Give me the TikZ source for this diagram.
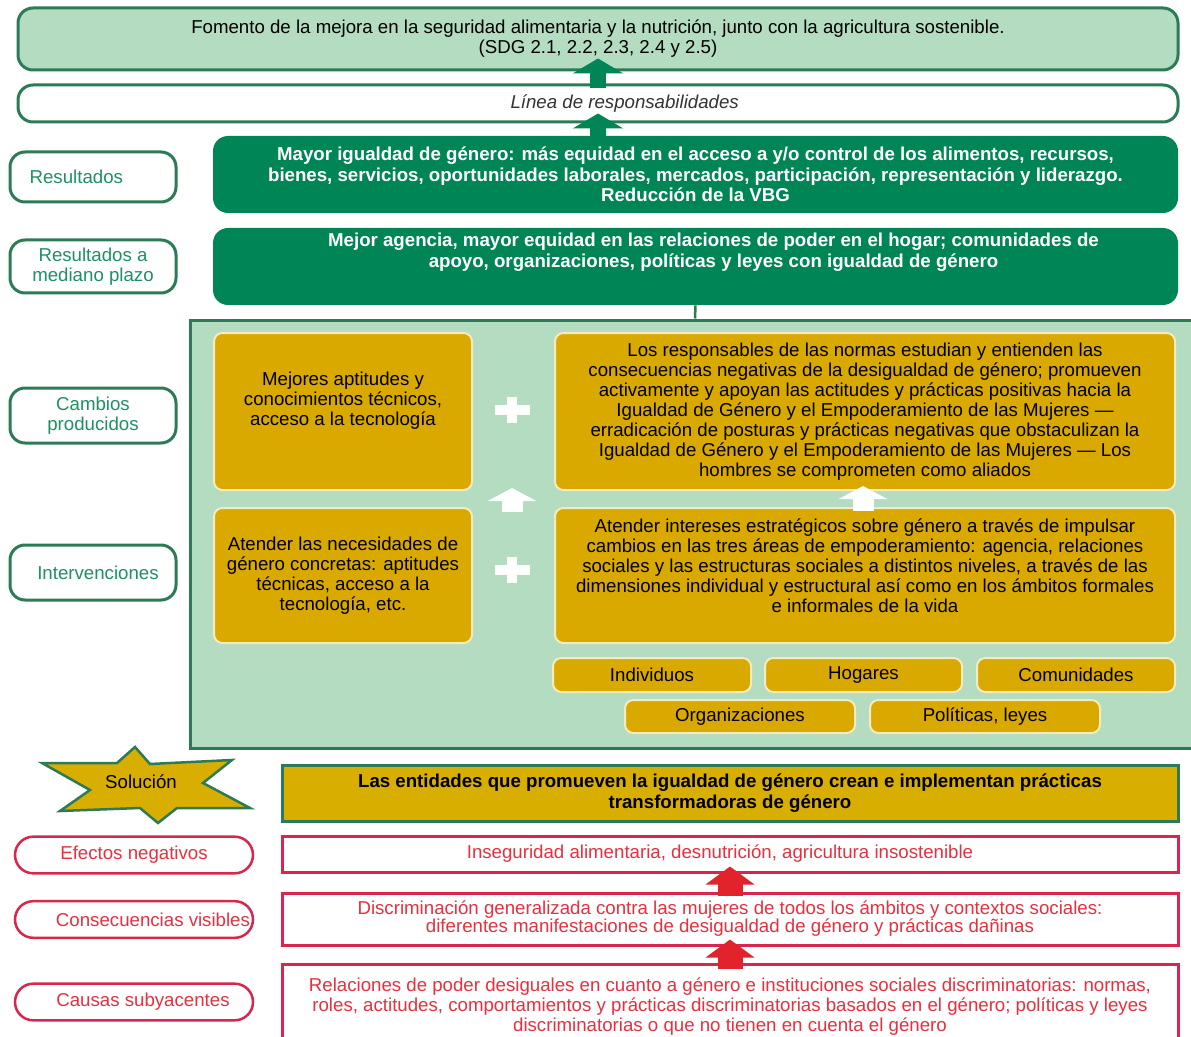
\documentclass[tikz,border=0pt]{standalone}
\usepackage{fontspec}
\setmainfont{Liberation Sans}
\usetikzlibrary{arrows.meta}

\definecolor{palegreen}{HTML}{B3DCC1}
\definecolor{boxgreen}{HTML}{008556}
\definecolor{edgegreen}{HTML}{2C7B56}
\definecolor{textgreen}{HTML}{1E9062}
\definecolor{boxgold}{HTML}{DAA900}
\definecolor{solgold}{HTML}{D8AE00}
\definecolor{edgered}{HTML}{D8264E}
\definecolor{textred}{HTML}{E6303F}
\definecolor{arrowred}{HTML}{E3232B}

\tikzset{
  every node/.style={font=\fontsize{11.2}{12}\selectfont, inner sep=0pt, align=center},
  goalbox/.style={draw=edgegreen, line width=1.8pt, fill=palegreen, rounded corners=9pt, minimum width=696pt},
  tagbox/.style={draw=edgegreen, line width=1.8pt, fill=white, rounded corners=9pt, text=textgreen, minimum width=99.6pt},
  outbox/.style={fill=boxgreen, rounded corners=9pt, minimum width=579pt, minimum height=46.2pt},
  outtext/.style={text=white, font=\fontsize{11.2}{12.3}\selectfont\bfseries},
  goldbox/.style={draw=white!75!boxgold, line width=1.2pt, fill=boxgold, rounded corners=5pt},
  levelbox/.style={goldbox, minimum height=20.4pt},
  redtag/.style={draw=edgered, line width=1.5pt, fill=white, rounded corners=11pt, text=textred, minimum width=142.8pt, minimum height=22pt},
  redbox/.style={draw=edgered, line width=1.8pt, fill=white, text=textred, minimum width=537.6pt},
  garrow/.style={draw=boxgreen, line width=9.6pt, -{Triangle[width=30pt,length=9pt]}},
  warrow/.style={draw=white, line width=12.6pt, -{Triangle[width=28.8pt,length=7.8pt]}},
  rarrow/.style={draw=arrowred, line width=15pt, -{Triangle[width=28.8pt,length=10.8pt]}},
}

\begin{document}
\begin{tikzpicture}[x=0.6pt,y=-0.6pt]
\fill[white] (0,0) rectangle (1191,1037);
\useasboundingbox (0,0) rectangle (1191,1037);

\node[goalbox, minimum height=37.2pt] (goal) at (598,39)
  {Fomento de la mejora en la seguridad alimentaria y la nutrición, junto con la agricultura sostenible.\\(SDG 2.1, 2.2, 2.3, 2.4 y 2.5)};
\node[goalbox, fill=white, minimum height=22.2pt,
  label={[xshift=16pt, text=black!80]center:\textit{Línea de responsabilidades}}] (linea) at (598,103.5) {};

\node[tagbox, minimum height=30pt, label={[xshift=-10pt, text=textgreen]center:Resultados}] (tagres) at (93,177) {};
\node[outbox, label={[outtext]center:Mayor igualdad de género: más equidad en el acceso a y/o control de los alimentos, recursos,\\bienes, servicios, oportunidades laborales, mercados, participación, representación y liderazgo.\\Reducción de la VBG}] (res) at (695.5,174.5) {};

\node[tagbox, minimum height=31.8pt] (tagmed) at (93,266.5) {Resultados a\\mediano plazo};
\node[outbox, label={[outtext, xshift=10.8pt, yshift=8.7pt]center:{Mejor agencia, mayor equidad en las relaciones de poder en el hogar; comunidades de\\apoyo, organizaciones, políticas y leyes con igualdad de género}}] (med) at (695.5,266.5) {};

\draw[garrow] ([yshift=-3pt]linea.north) -- ([yshift=7.8pt]goal.south);
\draw[garrow] ([xshift=-58.5pt,yshift=-3pt]res.north) -- ([yshift=6pt]linea.south);

\node[draw=edgegreen, line width=1.8pt, fill=palegreen, minimum width=606pt, minimum height=256.8pt] (panel) at (695,534) {};
\draw[edgegreen, line width=1.5pt] (med.south) -- (panel.north);

\node[tagbox, minimum height=33pt] (tagcamb) at (93,415.5) {Cambios\\producidos};
\node[tagbox, minimum height=33pt, label={[xshift=3pt, text=textgreen]center:Intervenciones}] (taginter) at (93,572.5) {};

\node[goldbox, minimum width=154.8pt, minimum height=94.2pt,
  label={[yshift=6.6pt]center:Mejores aptitudes y\\conocimientos técnicos,\\acceso a la tecnología}] (skills) at (343,411.5) {};
\node[goldbox, minimum width=372pt, minimum height=94.2pt] (norms) at (865,411.5)
  {Los responsables de las normas estudian y entienden las\\consecuencias negativas de la desigualdad de género; promueven\\activamente y apoyan las actitudes y prácticas positivas hacia la\\Igualdad de Género y el Empoderamiento de las Mujeres ---\\erradicación de posturas y prácticas negativas que obstaculizan la\\Igualdad de Género y el Empoderamiento de las Mujeres --- Los\\hombres se comprometen como aliados};
\node[goldbox, minimum width=154.8pt, minimum height=81pt] (needs) at (343,575.5)
  {Atender las necesidades de\\género concretas: aptitudes\\técnicas, acceso a la\\tecnología, etc.};
\node[goldbox, minimum width=372pt, minimum height=81pt,
  label={[yshift=5.7pt]center:{Atender intereses estratégicos sobre género a través de impulsar\\cambios en las tres áreas de empoderamiento: agencia, relaciones\\sociales y las estructuras sociales a distintos niveles, a través de las\\dimensiones individual y estructural así como en los ámbitos formales\\e informales de la vida}}] (interests) at (865,575.5) {};

\node[levelbox, minimum width=118.8pt] (indiv) at (652,675) {Individuos};
\node[levelbox, minimum width=118.2pt] (hogar) at (863.5,675) {Hogares};
\node[levelbox, minimum width=118.8pt] (comun) at (1076,675) {Comunidades};
\node[levelbox, minimum width=138pt, minimum height=19.8pt] (organ) at (740,716.5) {Organizaciones};
\node[levelbox, minimum width=138pt, minimum height=19.8pt] (polit) at (985,716.5) {Políticas, leyes};

\foreach \y in {410,570}
  \draw[white, line width=6pt] (495,\y) -- (530,\y) (512,\y-13) -- (512,\y+13);
\draw[warrow] ([xshift=101.4pt,yshift=-3pt]needs.north) -- ([xshift=101.4pt,yshift=1.8pt]skills.south);
\draw[warrow] ([xshift=-1.2pt,yshift=-2.4pt]interests.north) -- ([xshift=-1.2pt,yshift=3pt]norms.south);

\filldraw[fill=solgold, draw=edgegreen, line width=1.5pt] (135,747) -- (150,764) -- (232,760) -- (203,783) -- (250,808) -- (177,808) -- (158,823) -- (140,808) -- (60,811) -- (90,790) -- (42,763) -- (117,763) -- cycle;
\node (sol) at (141,782) {Solución};
\node[draw=edgegreen, line width=1.8pt, fill=solgold, minimum width=537.6pt, minimum height=33.6pt, font=\fontsize{11.2}{12.3}\selectfont\bfseries] (solbox) at (730,793)
  {Las entidades que promueven la igualdad de género crean e implementan prácticas\\transformadoras de género};

\node[redtag] (efec) at (134,855) {Efectos negativos};
\node[redtag, label={[xshift=11.4pt, text=textred]center:Consecuencias visibles}] (conse) at (134,919.5) {};
\node[redtag, label={[xshift=5.4pt, text=textred]center:Causas subyacentes}] (causas) at (134,1002) {};

\node[redbox, minimum height=21.6pt, label={[xshift=-6pt, text=textred]center:Inseguridad alimentaria, desnutrición, agricultura insostenible}] (inseg) at (730,854) {};
\node[redbox, minimum height=31.2pt, font=\fontsize{11.2}{10.8}\selectfont] (discr) at (730,919)
  {Discriminación generalizada contra las mujeres de todos los ámbitos y contextos sociales:\\diferentes manifestaciones de desigualdad de género y prácticas dañinas};
\node[redbox, minimum height=51.6pt] (rel) at (730,1007)
  {Relaciones de poder desiguales en cuanto a género e instituciones sociales discriminatorias: normas,\\roles, actitudes, comportamientos y prácticas discriminatorias basados en el género; políticas y leyes\\discriminatorias o que no tienen en cuenta el género};

\draw[rarrow] ([yshift=-2.4pt]discr.north) -- ([yshift=4.2pt]inseg.south);
\draw[rarrow] ([yshift=-3.6pt]rel.north) -- ([yshift=4.2pt]discr.south);

\end{tikzpicture}
\end{document}
